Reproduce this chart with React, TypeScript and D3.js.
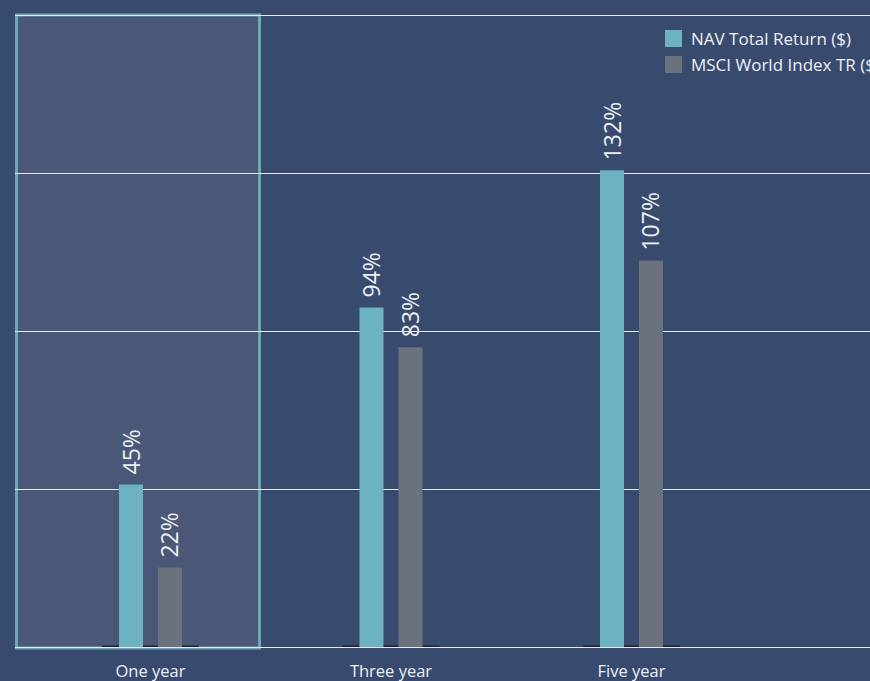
import { useEffect, useRef } from 'react';
import * as d3 from 'd3';

const categories = ['One year', 'Three year', 'Five year'];
const seriesNames = ['NAV Total Return ($)', 'MSCI World Index TR ($)'];
const navValues = [45, 94, 132];
const msciValues = [22, 83, 107];
const yTicks = [0, 43.75, 87.5, 131.25, 175];

const W = 870;
const H = 681;
const colors = ['#6cb2c3', '#6b727d'];
const FONT = '"Open Sans", sans-serif';

const App = () => {
    const ref = useRef<SVGSVGElement | null>(null);

    useEffect(() => {
        const svg = d3.select(ref.current);
        svg.selectAll('*').remove();

        const left = 15;
        const top = 15;
        const bottom = 647;

        svg.append('rect').attr('width', W).attr('height', H).attr('fill', '#394a6f');

        const x = d3.scalePoint<string>().domain(categories).range([150.5, 631.5]);
        const xSub = d3.scaleBand<string>().domain(seriesNames).range([-31.5, 31.5]).paddingInner(0.3846);
        const y = d3.scaleLinear().domain([0, 175]).range([bottom, top]);

        // highlighted first period
        svg.append('rect')
            .attr('x', left + 1.5)
            .attr('y', top)
            .attr('width', 243)
            .attr('height', bottom - top + 1)
            .attr('fill', '#4a5777')
            .attr('stroke', '#6aa9ba')
            .attr('stroke-width', 3);

        // gridlines
        svg.append('g')
            .selectAll('line')
            .data(yTicks)
            .join('line')
            .attr('x1', left)
            .attr('x2', W)
            .attr('y1', d => Math.round(y(d)) + 0.5)
            .attr('y2', d => Math.round(y(d)) + 0.5)
            .attr('stroke', '#e6e9ef')
            .attr('stroke-width', 1);

        // dark base segments
        svg.append('g')
            .selectAll('line')
            .data(categories)
            .join('line')
            .attr('x1', d => (x(d) as number) - 48.5)
            .attr('x2', d => (x(d) as number) + 48.5)
            .attr('y1', bottom - 0.8)
            .attr('y2', bottom - 0.8)
            .attr('stroke', '#1d2433')
            .attr('stroke-width', 1.6);

        const rows = categories.map((c, i) => ({ cat: c, vals: [navValues[i], msciValues[i]] }));

        const groups = svg.append('g')
            .selectAll('g')
            .data(rows)
            .join('g')
            .attr('transform', d => `translate(${x(d.cat)},0)`);

        groups.selectAll('rect')
            .data(d => d.vals.map((v, j) => ({ name: seriesNames[j], v, j })))
            .join('rect')
            .attr('x', d => xSub(d.name) as number)
            .attr('y', d => y(d.v))
            .attr('width', xSub.bandwidth())
            .attr('height', d => bottom - y(d.v))
            .attr('fill', d => colors[d.j]);

        groups.selectAll('text')
            .data(d => d.vals.map((v, j) => ({ name: seriesNames[j], v, j })))
            .join('text')
            .attr('transform', d => `translate(${(xSub(d.name) as number) + xSub.bandwidth() / 2 + 8.5},${y(d.v) - 10}) rotate(-90)`)
            .attr('font-family', FONT)
            .attr('font-size', 23)
            .attr('fill', '#eef0f3')
            .text(d => `${d.v}%`);

        // category labels
        svg.append('g')
            .selectAll('text')
            .data(categories)
            .join('text')
            .attr('x', d => x(d) as number)
            .attr('y', 677)
            .attr('text-anchor', 'middle')
            .attr('font-family', FONT)
            .attr('font-size', 16.5)
            .attr('fill', '#eef0f3')
            .text(d => d);

        // legend
        const legend = svg.append('g')
            .selectAll('g')
            .data(seriesNames)
            .join('g')
            .attr('transform', (d, i) => `translate(665,${30 + i * 26})`);
        legend.append('rect')
            .attr('width', 17)
            .attr('height', 17)
            .attr('fill', (d, i) => colors[i]);
        legend.append('text')
            .attr('x', 26)
            .attr('y', 15)
            .attr('font-family', FONT)
            .attr('font-size', 17)
            .attr('fill', '#eef0f3')
            .text(d => d);
    }, []);

    return (
        <svg ref={ref} width={W} height={H} style={{ display: 'block', position: 'absolute', left: 0, top: 0 }}></svg>
    );
};

export default App;
